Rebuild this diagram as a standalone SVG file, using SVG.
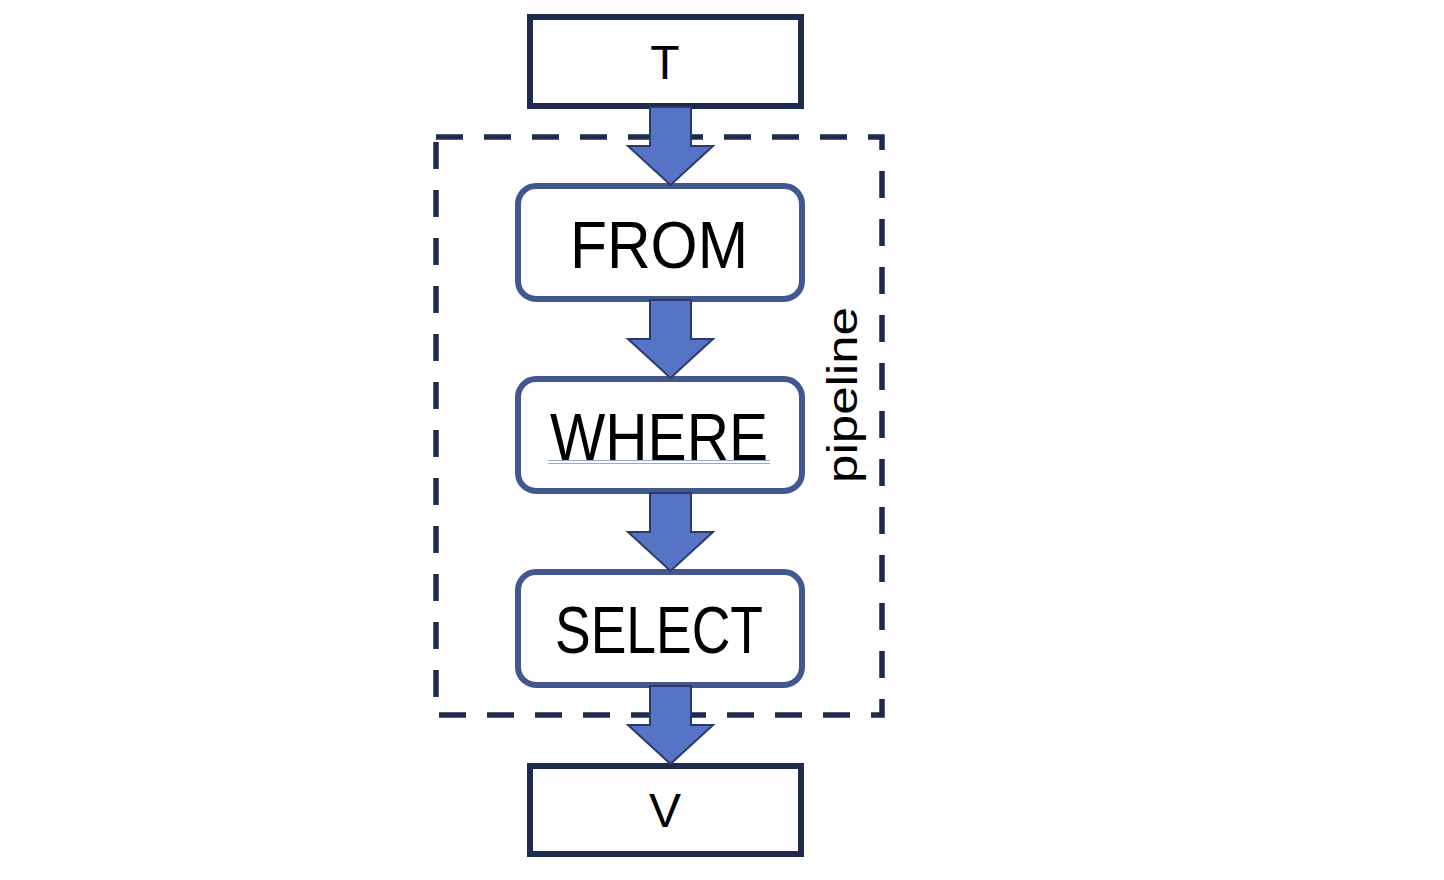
<svg xmlns="http://www.w3.org/2000/svg" width="1444" height="880" viewBox="0 0 1444 880">
<style>
.sq{fill:#fff;stroke:#1f2b4e;stroke-width:6}
.rd{fill:#fff;stroke:#42568f;stroke-width:6}
.ar{fill:#5674c6;stroke:#2b3a66;stroke-width:2;stroke-linejoin:miter}
.t{font-family:"Liberation Sans",Arial,sans-serif;fill:#000;text-anchor:middle}
</style>
<rect width="1444" height="880" fill="#fff"/>
<g id="T"><rect class="sq" x="530" y="17" width="271" height="89"/><text class="t" x="665" y="79" font-size="48">T</text></g>
<g id="V"><rect class="sq" x="530" y="766" width="271" height="88"/><text class="t" x="665" y="827" font-size="48">V</text></g>
<g id="FROM"><rect class="rd" x="518" y="186" width="284" height="113" rx="18"/><text class="t" x="659" y="268" font-size="66" textLength="178" lengthAdjust="spacingAndGlyphs">FROM</text></g>
<g id="WHERE"><rect class="rd" x="518" y="379" width="284" height="112" rx="18"/><text class="t" x="659" y="460" font-size="66" textLength="218" lengthAdjust="spacingAndGlyphs">WHERE</text>
<path d="M548 460.5H770M548 463.5H770" stroke="#8fa8dc" stroke-width="1.2" fill="none"/></g>
<g id="SELECT"><rect class="rd" x="518" y="572" width="284" height="113" rx="18"/><text class="t" x="659" y="653" font-size="66" textLength="208" lengthAdjust="spacingAndGlyphs">SELECT</text></g>
<g id="pipeline"><rect x="436" y="137" width="446" height="578" fill="none" stroke="#1f2b4e" stroke-width="5.5" stroke-dasharray="27 21"/>
<text class="t" transform="translate(857 395) rotate(-90)" font-size="42" textLength="176" lengthAdjust="spacingAndGlyphs">pipeline</text></g>
<g id="connectors">
<path class="ar" d="M650 107H691V146H713L670.5 185L628 146H650Z"/>
<path class="ar" d="M650 300H691V339H713L670.5 378L628 339H650Z"/>
<path class="ar" d="M650 493H691V532H713L670.5 571L628 532H650Z"/>
<path class="ar" d="M650 686H691V725H713L670.5 764L628 725H650Z"/>
</g>
</svg>
